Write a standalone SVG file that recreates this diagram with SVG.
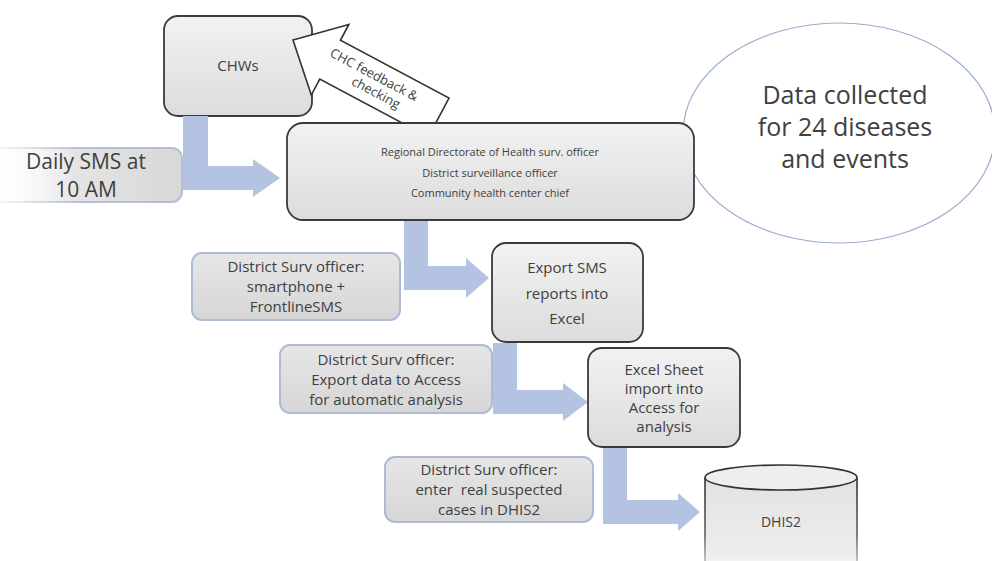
<svg xmlns="http://www.w3.org/2000/svg" width="992" height="561" viewBox="0 0 992 561">
  <defs>
    <linearGradient id="gBox" x1="0" y1="0" x2="0" y2="1">
      <stop offset="0" stop-color="#f2f2f2"/>
      <stop offset="1" stop-color="#dcdcdc"/>
    </linearGradient>
    <linearGradient id="gSide" x1="0" y1="0" x2="0" y2="1">
      <stop offset="0" stop-color="#e6e6e6"/>
      <stop offset="1" stop-color="#d6d6d6"/>
    </linearGradient>
    <linearGradient id="gDaily" x1="0" y1="0" x2="1" y2="0">
      <stop offset="0" stop-color="#ffffff" stop-opacity="0"/>
      <stop offset="0.45" stop-color="#e4e4e4"/>
      <stop offset="1" stop-color="#d8d8d8"/>
    </linearGradient>
    <linearGradient id="gDailyStroke" x1="0" y1="0" x2="1" y2="0">
      <stop offset="0" stop-color="#b3c0da" stop-opacity="0"/>
      <stop offset="0.5" stop-color="#b3c0da"/>
      <stop offset="1" stop-color="#b3c0da"/>
    </linearGradient>
    <linearGradient id="gCyl" x1="0" y1="0" x2="0" y2="1">
      <stop offset="0" stop-color="#e2e2e2"/>
      <stop offset="0.8" stop-color="#eeeeee"/>
      <stop offset="1" stop-color="#ffffff"/>
    </linearGradient>
    <linearGradient id="gCylStroke" x1="0" y1="0" x2="0" y2="1">
      <stop offset="0" stop-color="#333333"/>
      <stop offset="0.6" stop-color="#666666"/>
      <stop offset="1" stop-color="#e0e0e0"/>
    </linearGradient>
  </defs>
  <style>
    .box { fill: url(#gBox); stroke: #3a3a3a; stroke-width: 1.8; }
    .side { fill: url(#gSide); stroke: #aebbd6; stroke-width: 2; }
    .flow { fill: #b5c3e2; }
    .t { font-family: "Open Sans", "Liberation Sans", sans-serif; fill: #404040; text-anchor: middle; }
    .t15 { font-size: 15px; }
    .t11 { font-size: 11px; }
  </style>
  <rect width="992" height="561" fill="#ffffff"/>

  <g id="data-collected">
    <ellipse cx="839" cy="133" rx="156" ry="110" fill="#ffffff" stroke="#9aaccd" stroke-width="1.2"/>
    <text class="t" font-size="25" x="845" y="104">Data collected</text>
    <text class="t" font-size="25" x="845" y="136">for 24 diseases</text>
    <text class="t" font-size="25" x="845" y="168">and events</text>
  </g>

  <g id="chws">
    <rect class="box" x="164" y="16" width="148" height="100" rx="14"/>
    <text class="t t15" x="238" y="71">CHWs</text>
  </g>

  <g id="connectors">
    <path class="flow" d="M183,116 H208 V166 H253 V159 L280,178 L253,197 V190 H183 Z"/>
    <path class="flow" d="M404,220 H428 V266 H466 V258 L489,278 L466,298 V290 H404 Z"/>
    <path class="flow" d="M493,343 H517 V390 H563 V383 L588,402 L563,421 V414 H493 Z"/>
    <path class="flow" d="M603,447 H627 V500 H678 V493 L700,512 L678,531 V524 H603 Z"/>
    <g id="chc-feedback" transform="translate(293,40) rotate(28)">
      <polygon points="0,0 42,-40 42,-22 165,-22 165,22 42,22 42,40" fill="#ffffff" stroke="#333333" stroke-width="1.6" stroke-linejoin="miter"/>
      <text class="t" font-size="13" x="88" y="-3">CHC feedback &amp;</text>
      <text class="t" font-size="13" x="98" y="12">checking</text>
    </g>
  </g>

  <g id="daily-sms">
    <rect x="-12" y="148" width="194" height="54" rx="10" fill="url(#gDaily)" stroke="url(#gDailyStroke)" stroke-width="2"/>
    <text class="t" font-size="21" x="86" y="169">Daily SMS at</text>
    <text class="t" font-size="21" x="86" y="197">10 AM</text>
  </g>

  <g id="regional">
    <rect class="box" x="287" y="123" width="407" height="97" rx="16"/>
    <text class="t t11" x="490" y="156">Regional Directorate of Health surv. officer</text>
    <text class="t t11" x="490" y="177">District surveillance officer</text>
    <text class="t t11" x="490" y="197">Community health center chief</text>
  </g>

  <g id="surv-smartphone">
    <rect class="side" x="192" y="253" width="208" height="67" rx="10"/>
    <text class="t t15" x="296" y="272">District Surv officer:</text>
    <text class="t t15" x="296" y="292">smartphone +</text>
    <text class="t t15" x="296" y="312">FrontlineSMS</text>
  </g>

  <g id="export-sms">
    <rect class="box" x="492" y="243" width="151" height="99" rx="14"/>
    <text class="t t15" x="567" y="273">Export SMS</text>
    <text class="t t15" x="567" y="299">reports into</text>
    <text class="t t15" x="567" y="324">Excel</text>
  </g>

  <g id="surv-export">
    <rect class="side" x="280" y="345" width="212" height="68" rx="10"/>
    <text class="t t15" x="386" y="365">District Surv officer:</text>
    <text class="t t15" x="386" y="385">Export data to Access</text>
    <text class="t t15" x="386" y="405">for automatic analysis</text>
  </g>

  <g id="excel-sheet">
    <rect class="box" x="588" y="348" width="152" height="99" rx="14"/>
    <text class="t t15" x="664" y="375">Excel Sheet</text>
    <text class="t t15" x="664" y="394">import into</text>
    <text class="t t15" x="664" y="413">Access for</text>
    <text class="t t15" x="664" y="432">analysis</text>
  </g>

  <g id="surv-dhis2">
    <rect class="side" x="385" y="457" width="208" height="65" rx="10"/>
    <text class="t t15" x="489" y="475">District Surv officer:</text>
    <text class="t t15" x="489" y="495" xml:space="preserve">enter  real suspected</text>
    <text class="t t15" x="489" y="515">cases in DHIS2</text>
  </g>

  <g id="dhis2">
    <path d="M705,477.5 V575 H857 V477.5" fill="url(#gCyl)" stroke="url(#gCylStroke)" stroke-width="1.6"/>
    <ellipse cx="781" cy="477.5" rx="76" ry="12.5" fill="#eeeeee" stroke="#333333" stroke-width="1.6"/>
    <text class="t" font-size="14" x="781" y="527">DHIS2</text>
  </g>
</svg>
